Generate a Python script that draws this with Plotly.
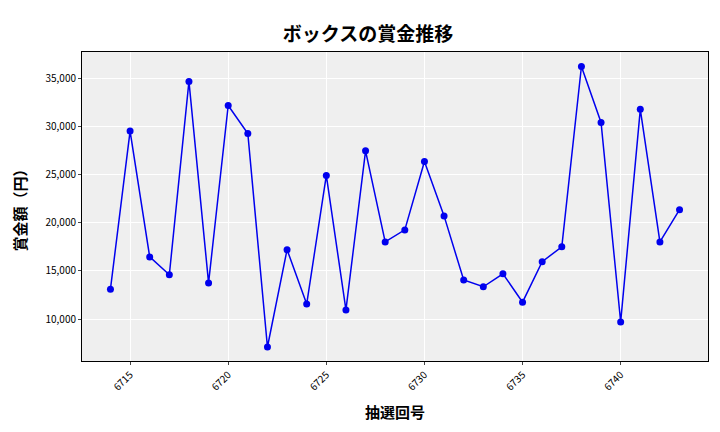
import plotly.graph_objects as go

draws = list(range(6714, 6744))
prizes = [13100, 29500, 16450, 14600, 34650, 13750, 32150, 29250, 7100, 17200,
          11550, 24900, 10950, 27450, 18000, 19250, 26350, 20700, 14050, 13350,
          14700, 11750, 15950, 17500, 36200, 30400, 9700, 31750, 18000, 21350]

fig = go.Figure(go.Scatter(x=draws, y=prizes, mode="lines+markers",
                           line=dict(color="#0000ee", width=1.5),
                           marker=dict(color="#0000ee", size=7)))
font = "Noto Sans CJK JP"
fig.update_layout(
    width=720, height=432, margin=dict(l=72, r=20, t=44, b=79),
    paper_bgcolor="white", plot_bgcolor="#efefef",
    font=dict(family=font, color="black", size=10),
    title=dict(text="<b>ボックスの賞金推移</b>", x=0.5, xanchor="center", y=0.955,
               font=dict(size=19, family=font)),
    showlegend=False,
)
fig.update_xaxes(title=dict(text="<b>抽選回号</b>", font=dict(size=15)), tickvals=[6715, 6720, 6725, 6730, 6735, 6740],
                 tickangle=-45, range=[6712.55, 6744.45], gridcolor="white",
                 showline=True, linecolor="black", mirror=True, ticks="outside", ticklen=3)
fig.update_yaxes(title=dict(text="<b>賞金額（円）</b>", font=dict(size=15)), tickformat=",",
                 tickvals=[10000, 15000, 20000, 25000, 30000, 35000],
                 range=[5650, 37700], gridcolor="white",
                 showline=True, linecolor="black", mirror=True, ticks="outside", ticklen=3)
fig.write_html("out.html")
